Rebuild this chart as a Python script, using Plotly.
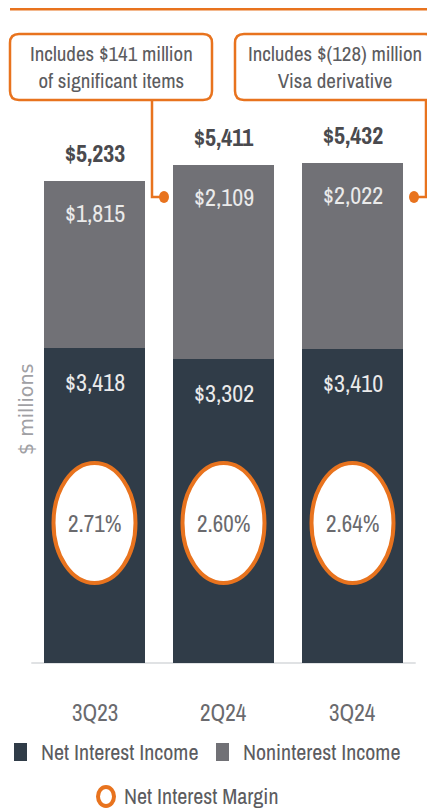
import plotly.graph_objects as go

# ---------------- data ----------------
categories = ["3Q23", "2Q24", "3Q24"]
net_interest_income = [3418, 3302, 3410]
noninterest_income = [1815, 2109, 2022]
total_revenue = [5233, 5411, 5432]
net_interest_margin = [2.71, 2.60, 2.64]
callout_texts = ["Includes $141 million<br>of significant items",
                 "Includes $(128) million<br>Visa derivative"]
legend_labels = ["Net Interest Income", "Noninterest Income", "Net Interest Margin"]

# ---------------- style ----------------
# The page body has an 8px default margin, so the figure is drawn 8px smaller
# and all layout positions below are given in window pixels (converted by px/py).
OFF = 8
W, H = 435 - OFF, 811 - OFF
DARK = "#303c48"
GRAY = "#717176"
ORANGE = "#e8731e"
TEXT = "#5c5c60"
FONT = "Archivo Narrow, Roboto Condensed, sans-serif"

BASE_PX = 663          # baseline pixel row (window)
PXU = 0.0921           # pixels per $ million
SLOT = 129             # pixels between bar centers
X0_PX = 94.5           # window-pixel center of first bar
BAR_W = 101 / SLOT


def px(x):
    return (x - OFF) / W


def py(y):
    return 1 - (y - OFF) / H


def ann(x, y, text, size, color, xref="paper", yref="paper", xanchor="center",
        yanchor="middle", family=FONT, **kw):
    return dict(x=x, y=y, xref=xref, yref=yref, text=text, showarrow=False,
                xanchor=xanchor, yanchor=yanchor,
                font=dict(size=size, color=color, family=family), **kw)


idx = list(range(len(categories)))

fig = go.Figure()
fig.add_trace(go.Bar(x=idx, y=net_interest_income, marker_color=DARK, width=BAR_W,
                     name=legend_labels[0], hoverinfo="skip", marker_line_width=0))
fig.add_trace(go.Bar(x=idx, y=noninterest_income, marker_color=GRAY, width=BAR_W,
                     name=legend_labels[1], hoverinfo="skip", marker_line_width=0))

annotations = []
shapes = []

for i in idx:
    tot = net_interest_income[i] + noninterest_income[i]
    annotations.append(ann(i, tot, f"<b>${total_revenue[i]:,}</b>", 24, "#4a4a4e",
                           xref="x", yref="y", yshift=28))
    annotations.append(ann(i, tot, f"${noninterest_income[i]:,}", 24, "#eaeaea",
                           xref="x", yref="y", yshift=-32))
    annotations.append(ann(i, net_interest_income[i], f"${net_interest_income[i]:,}", 24, "#eaeaea",
                           xref="x", yref="y", yshift=-34))
    # NIM circle
    rx = 41 / SLOT
    shapes.append(dict(type="circle", xref="x", yref="paper", x0=i - rx, x1=i + rx,
                       y0=py(583), y1=py(463), fillcolor="white",
                       line=dict(color=ORANGE, width=4), layer="above"))
    annotations.append(ann(i, py(523), f"{net_interest_margin[i]:.2f}%", 23, "#6a6a6e", xref="x"))
    # category labels
    annotations.append(ann(i, py(712), categories[i], 23, "#6a6a6e", xref="x"))

# baseline
shapes.append(dict(type="line", xref="x", yref="y", x0=-0.49, x1=len(categories) - 0.51,
                   y0=0, y1=0, line=dict(color="#e0e2e4", width=2), layer="below"))

# top orange rule
shapes.append(dict(type="line", xref="paper", yref="paper", x0=px(10), x1=px(436),
                   y0=py(9), y1=py(9), line=dict(color=ORANGE, width=3)))


def rounded_rect(x0, y0, x1, y1, r):
    def P(x, y):
        return f"{px(x):.5f},{py(y):.5f}"
    return (f"M {P(x0 + r, y0)} L {P(x1 - r, y0)} Q {P(x1, y0)} {P(x1, y0 + r)} "
            f"L {P(x1, y1 - r)} Q {P(x1, y1)} {P(x1 - r, y1)} "
            f"L {P(x0 + r, y1)} Q {P(x0, y1)} {P(x0, y1 - r)} "
            f"L {P(x0, y0 + r)} Q {P(x0, y0)} {P(x0 + r, y0)} Z")


boxes = [(10, 34, 212, 100), (235, 34, 434, 100)]
connectors = [[(152, 100), (152, 197), (160, 197)], [(426, 100), (426, 197), (418, 197)]]
dots = [(164, 197), (414, 197)]
for b, txt, con, d in zip(boxes, callout_texts, connectors, dots):
    x0, y0, x1, y1 = b
    shapes.append(dict(type="path", xref="paper", yref="paper", path=rounded_rect(x0, y0, x1, y1, 9),
                       fillcolor="white", line=dict(color=ORANGE, width=2.5)))
    annotations.append(ann(px((x0 + x1) / 2), py((y0 + y1) / 2), txt, 21, TEXT, align="center"))
    path = "M " + " L ".join(f"{px(a):.5f},{py(c):.5f}" for a, c in con)
    shapes.append(dict(type="path", xref="paper", yref="paper", path=path,
                       line=dict(color=ORANGE, width=2.5)))
    shapes.append(dict(type="circle", xref="paper", yref="paper",
                       x0=px(d[0] - 5), x1=px(d[0] + 5), y0=py(d[1] + 6), y1=py(d[1] - 6),
                       fillcolor=ORANGE, line=dict(color=ORANGE, width=0)))

# y axis title
annotations.append(ann(px(26), py(410), "$ millions", 19, "#a0a0a4", textangle=-90,
                       family="DejaVu Sans, sans-serif"))

# custom legend
shapes.append(dict(type="rect", xref="paper", yref="paper", x0=px(14), x1=px(27),
                   y0=py(761), y1=py(743), fillcolor=DARK, line=dict(width=0)))
annotations.append(ann(px(39), py(752), legend_labels[0], 22, TEXT, xanchor="left"))
shapes.append(dict(type="rect", xref="paper", yref="paper", x0=px(216), x1=px(229),
                   y0=py(761), y1=py(743), fillcolor=GRAY, line=dict(width=0)))
annotations.append(ann(px(241), py(752), legend_labels[1], 22, TEXT, xanchor="left"))
shapes.append(dict(type="circle", xref="paper", yref="paper", x0=px(98), x1=px(114),
                   y0=py(806), y1=py(787), fillcolor="white", line=dict(color=ORANGE, width=4)))
annotations.append(ann(px(122), py(796), legend_labels[2], 22, TEXT, xanchor="left"))

fig.update_layout(
    width=W, height=H,
    margin=dict(l=0, r=0, t=0, b=0),
    paper_bgcolor="white", plot_bgcolor="white",
    barmode="stack", bargap=0,
    showlegend=False,
    xaxis=dict(range=[(OFF - X0_PX) / SLOT, (435 - X0_PX) / SLOT], visible=False, fixedrange=True),
    yaxis=dict(range=[(BASE_PX - 811) / PXU, (BASE_PX - OFF) / PXU], visible=False, fixedrange=True),
    shapes=shapes,
    annotations=annotations,
)

fig.write_html("out.html")
